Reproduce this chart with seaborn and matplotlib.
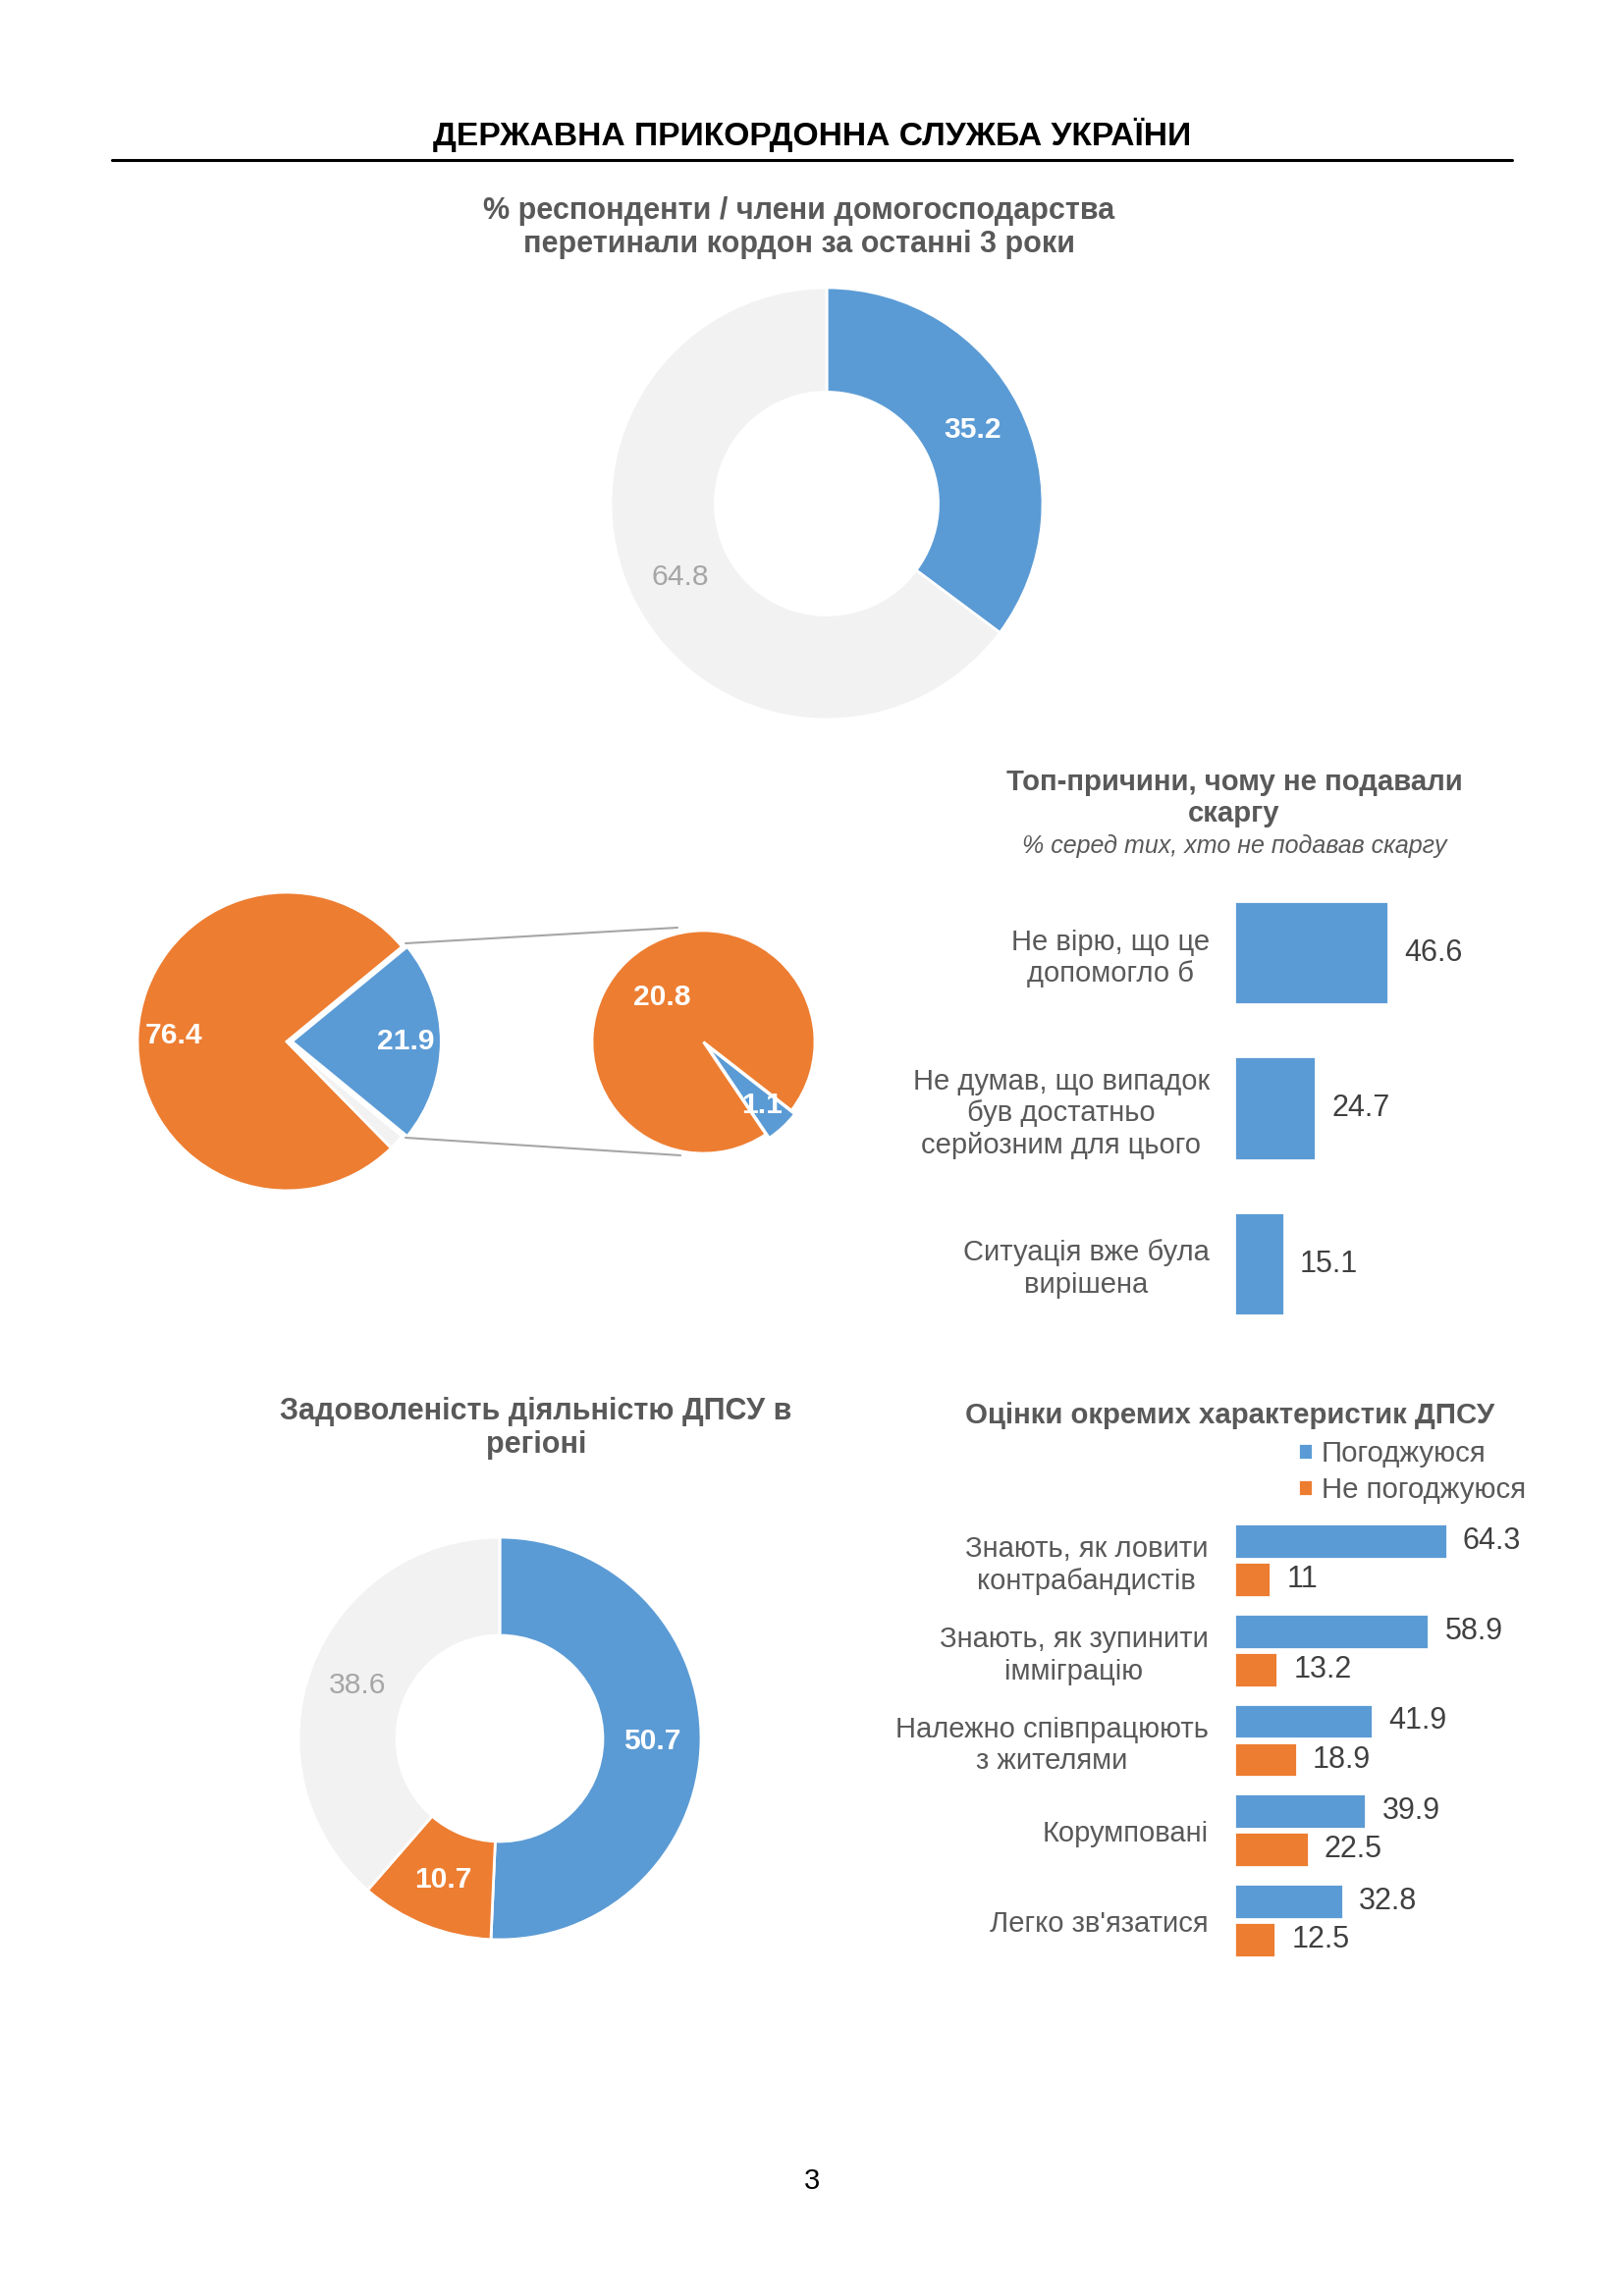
import numpy as np
import pandas as pd
import matplotlib
matplotlib.use('Agg')
import matplotlib.pyplot as plt
from matplotlib.lines import Line2D
import seaborn as sns

# Page style
sns.set_theme(style='white')
plt.rcParams['font.family'] = ['Liberation Sans', 'DejaVu Sans']

BLUE = '#5B9BD5'
ORANGE = '#ED7D31'
LIGHT = '#F2F2F2'
TITLE_GREY = '#595959'
LABEL_GREY = '#595959'
VALUE_GREY = '#404040'
SOFT_GREY = '#A6A6A6'

# ---- data ----
# respondents who crossed the border in the last 3 years
border_values = [35.2, 64.8]

# complaints: main pie (orange, blue, grey remainder) and breakdown of the blue slice
complaint_values = [76.4, 21.9, 1.7]
complaint_detail = [20.8, 1.1]

# top reasons for not filing a complaint
reasons = ['Не вірю, що це\nдопомогло б',
           'Не думав, що випадок\nбув достатньо\nсерйозним для цього',
           'Ситуація вже була\nвирішена']
reason_values = [46.6, 24.7, 15.1]

# satisfaction with the service in the region
satisfaction_values = [50.7, 10.7, 38.6]

# ratings of individual characteristics
traits = ['Знають, як ловити\nконтрабандистів',
          'Знають, як зупинити\nімміграцію',
          'Належно співпрацюють\nз жителями',
          'Корумповані',
          "Легко зв'язатися"]
agree_values = [64.3, 58.9, 41.9, 39.9, 32.8]
disagree_values = [11, 13.2, 18.9, 22.5, 12.5]
series_names = ['Погоджуюся', 'Не погоджуюся']

W, H, DPI = 1653, 2339, 200
fig = plt.figure(figsize=(W / DPI, H / DPI), dpi=DPI)
fig.patch.set_facecolor('white')


def px_axes(left, top, width, height):
    """Axes placed by pixel box (top-left origin)"""
    return fig.add_axes([left / W, 1 - (top + height) / H, width / W, height / H])


def pie_axes(cx, cy, r):
    """Square axes where radius 1 equals r pixels (pie sets limits to +-1.25)"""
    return px_axes(cx - 1.25 * r, cy - 1.25 * r, 2.5 * r, 2.5 * r)


def fig_text(x, y, s, **kw):
    return fig.text(x / W, 1 - y / H, s, **kw)


def fig_line(x0, y0, x1, y1, **kw):
    fig.add_artist(Line2D([x0 / W, x1 / W], [1 - y0 / H, 1 - y1 / H],
                          transform=fig.transFigure, **kw))


def value_fmt(values):
    total = sum(values)
    return lambda p: f'{p * total / 100:.1f}'


# ---- header ----
fig_text(827, 137, 'ДЕРЖАВНА ПРИКОРДОННА СЛУЖБА УКРАЇНИ', ha='center', va='center',
         fontsize=12.1, weight='bold', color='black')
fig_line(114, 163, 1540, 163, color='black', lw=1.1)

# ---- donut 1: crossed the border ----
fig_text(814, 232, '% респонденти / члени домогосподарства\nперетинали кордон за останні 3 роки',
         ha='center', va='center', fontsize=11, weight='bold', color=TITLE_GREY,
         linespacing=1.15)
ax1 = pie_axes(842, 513, 220)
_, _, t1 = ax1.pie(border_values, colors=[BLUE, LIGHT], startangle=90, counterclock=False,
                   wedgeprops=dict(width=0.484, edgecolor='white', linewidth=1.0),
                   autopct=value_fmt(border_values), pctdistance=0.758,
                   textprops=dict(fontsize=10.8))
t1[0].set_color('white')
t1[0].set_weight('bold')
t1[1].set_color(SOFT_GREY)

# ---- pie of pie: complaints ----
axp = pie_axes(292, 1061, 152)
start = 360 * (complaint_values[0] + complaint_values[1] / 2) / sum(complaint_values)
_, _, tp = axp.pie(complaint_values, colors=[ORANGE, BLUE, LIGHT], startangle=start,
                   counterclock=False, explode=[0, 0.035, 0],
                   wedgeprops=dict(edgecolor='white', linewidth=1.0),
                   autopct=value_fmt(complaint_values), pctdistance=0.76,
                   textprops=dict(fontsize=10.8, color='white', weight='bold'))
tp[2].set_text('')

axs = pie_axes(716.5, 1061.5, 113.5)
_, _, ts = axs.pie(complaint_detail, colors=[ORANGE, BLUE], startangle=-56,
                   counterclock=False, explode=[0, 0.045],
                   wedgeprops=dict(edgecolor='white', linewidth=1.0),
                   autopct=value_fmt(complaint_detail), pctdistance=0.55,
                   textprops=dict(fontsize=10.8, color='white', weight='bold'))
bx, by = ts[1].get_position()
ts[1].set_position((bx * 1.3, by * 1.3))

fig_line(413, 961, 690, 945, color=SOFT_GREY, lw=0.75)
fig_line(413, 1159, 693, 1177, color=SOFT_GREY, lw=0.75)

# ---- bar chart 1: reasons ----
fig_text(1257, 813, 'Топ-причини, чому не подавали\nскаргу', ha='center', va='center',
         fontsize=10.6, weight='bold', color=TITLE_GREY, linespacing=1.15)
fig_text(1257, 862, '% серед тих, хто не подавав скаргу', ha='center', va='center',
         fontsize=9, style='italic', color=TITLE_GREY)

reason_df = pd.DataFrame({'reason': reasons, 'value': reason_values})
step1 = 158.5
axb = px_axes(1257, 970.5 - step1 / 2, 100 * 3.37, 3 * step1)
sns.barplot(data=reason_df, x='value', y='reason', orient='h', color=BLUE,
            saturation=1, width=0.665, ax=axb)
axb.set_xlim(0, 100)
axb.set_ylim(2.5, -0.5)
axb.set_xticks([])
axb.set_xlabel('')
axb.set_ylabel('')
axb.tick_params(axis='y', length=0, pad=9, labelsize=10.5, labelcolor=LABEL_GREY)
for lbl in axb.get_yticklabels():
    lbl.set_multialignment('center')
sns.despine(ax=axb, left=True, bottom=True)
axb.bar_label(axb.containers[0], labels=[f'{v:g}' for v in reason_values],
              padding=5.8, fontsize=11, color=VALUE_GREY)

# ---- donut 2: satisfaction ----
fig_text(546, 1455, 'Задоволеність діяльністю ДПСУ в\nрегіоні', ha='center', va='center',
         fontsize=11, weight='bold', color=TITLE_GREY, linespacing=1.15)
ax2 = pie_axes(509, 1771, 205)
_, _, t2 = ax2.pie(satisfaction_values, colors=[BLUE, ORANGE, LIGHT], startangle=90,
                   counterclock=False,
                   wedgeprops=dict(width=0.488, edgecolor='white', linewidth=1.0),
                   autopct=value_fmt(satisfaction_values), pctdistance=0.756,
                   textprops=dict(fontsize=10.8))
for t in t2[:2]:
    t.set_color('white')
    t.set_weight('bold')
t2[2].set_color(SOFT_GREY)

# ---- bar chart 2: characteristics ----
fig_text(1253, 1442, 'Оцінки окремих характеристик ДПСУ', ha='center', va='center',
         fontsize=10.6, weight='bold', color=TITLE_GREY)

trait_df = pd.DataFrame({
    'trait': traits * 2,
    'series': [series_names[0]] * len(traits) + [series_names[1]] * len(traits),
    'value': agree_values + disagree_values,
})
step2 = 91.85
axc = px_axes(1257, 1589.3 - step2 / 2, 100 * 3.37, 5 * step2)
sns.barplot(data=trait_df, x='value', y='trait', hue='series', orient='h',
            palette=[BLUE, ORANGE], saturation=1, width=0.85, gap=0.08, ax=axc)
axc.set_xlim(0, 100)
axc.set_ylim(4.5, -0.5)
axc.set_xticks([])
axc.set_xlabel('')
axc.set_ylabel('')
axc.tick_params(axis='y', length=0, pad=9.5, labelsize=10.5, labelcolor=LABEL_GREY)
for lbl in axc.get_yticklabels():
    lbl.set_multialignment('center')
sns.despine(ax=axc, left=True, bottom=True)
for cont, vals in zip(axc.containers, [agree_values, disagree_values]):
    axc.bar_label(cont, labels=[f'{v:g}' for v in vals], padding=5.8,
                  fontsize=11, color=VALUE_GREY)
sns.move_legend(axc, 'upper left', bbox_to_anchor=(1322 / W, 1 - 1467 / H),
                bbox_transform=fig.transFigure, frameon=False, title=None,
                borderpad=0, borderaxespad=0, handlelength=0.52, handleheight=0.52,
                handletextpad=0.28, labelspacing=0.3, fontsize=10.6, labelcolor=LABEL_GREY)

# ---- page number ----
fig_text(827, 2222, '3', ha='center', va='center', fontsize=10.5, color='black')

fig.savefig('out.png', dpi=DPI)
